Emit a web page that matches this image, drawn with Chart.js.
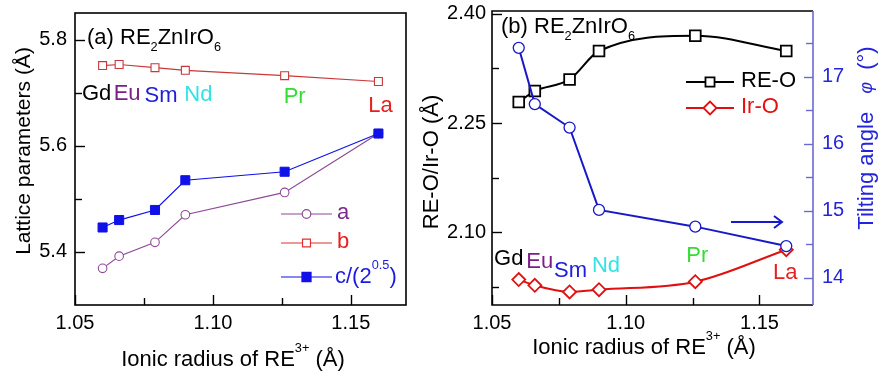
<!DOCTYPE html>
<html>
<head>
<meta charset="utf-8">
<script src="https://cdn.jsdelivr.net/npm/chart.js@4.4.1/dist/chart.umd.min.js"></script>
<style>
  html, body { margin: 0; padding: 0; background: #fff; }
  #wrap { position: relative; width: 879px; height: 376px; }
  canvas { position: absolute; top: 0; }
  #latt { left: 0; }
  #bond { left: 415px; }
</style>
</head>
<body>
<div id="wrap">
  <canvas id="latt" width="440" height="376"></canvas>
  <canvas id="bond" width="464" height="376"></canvas>
</div>
<script>
const FONT = "'Liberation Sans', Arial, sans-serif";

// ionic radius of RE3+ (Å), Gd -> La
const ELEMENTS = ['Gd', 'Eu', 'Sm', 'Nd', 'Pr', 'La'];
const RADIUS = [1.060, 1.066, 1.079, 1.090, 1.126, 1.160];

// lattice parameters (Å)
const LATT_A = [5.369, 5.392, 5.418, 5.470, 5.512, 5.623];
const LATT_B = [5.751, 5.753, 5.747, 5.742, 5.732, 5.721];
const LATT_C = [5.446, 5.460, 5.479, 5.535, 5.551, 5.623];

// bond lengths (Å) and octahedral tilting angle (deg)
const BOND_RE_O = [2.279, 2.294, 2.310, 2.349, 2.370, 2.349];
const BOND_IR_O = [2.035, 2.027, 2.018, 2.021, 2.032, 2.076];
const TILT = [17.43, 16.59, 16.24, 15.01, 14.76, 14.47];

// ticks
const X_TICKS = [1.05, 1.10, 1.15];
const X_MINOR = [1.075, 1.125];
const LATT_TICKS = [5.4, 5.6, 5.8];
const LATT_MINOR = [5.5, 5.7];
const BOND_TICKS = [2.10, 2.25, 2.40];
const BOND_MINOR = [2.025, 2.175, 2.325];
const TILT_TICKS = [14, 15, 16, 17];
const TILT_MINOR = [14.5, 15.5, 16.5, 17.5];

const ELEM_COLORS = ['#000000', '#7a1f86', '#2020d8', '#33e3e3', '#33dd33', '#e62020'];

const pts = ys => RADIUS.map((x, i) => ({ x, y: ys[i] }));

// text made of runs, some of them sub/superscript
function rich(ctx, parts, x, y, size, color, align) {
  const fontOf = p => {
    const s = size * (p.sub || p.sup ? 0.58 : 1) * (p.scale || 1);
    return (p.it ? 'italic ' : '') + s + 'px ' + FONT;
  };
  let w = 0;
  parts.forEach(p => { ctx.font = fontOf(p); w += ctx.measureText(p.t).width; });
  let cx = align === 'center' ? x - w / 2 : x;
  ctx.textAlign = 'left';
  ctx.textBaseline = 'middle';
  parts.forEach(p => {
    ctx.font = fontOf(p);
    ctx.fillStyle = p.color || color;
    const dy = p.sup ? -size * 0.52 : p.sub ? size * 0.42 : 0;
    ctx.fillText(p.t, cx, y + dy);
    cx += ctx.measureText(p.t).width;
  });
}

function richUp(ctx, parts, x, y, size, color) {
  ctx.save();
  ctx.translate(x, y);
  ctx.rotate(-Math.PI / 2);
  rich(ctx, parts, 0, 0, size, color, 'center');
  ctx.restore();
}

function yTicks(ctx, scale, values, len, x0, dir) {
  values.forEach(v => {
    const y = Math.round(scale.getPixelForValue(v)) + 0.5;
    ctx.beginPath(); ctx.moveTo(x0, y); ctx.lineTo(x0 + dir * len, y); ctx.stroke();
  });
}

function xTicks(ctx, scale, values, len, y0) {
  values.forEach(v => {
    const x = Math.round(scale.getPixelForValue(v)) + 0.5;
    ctx.beginPath(); ctx.moveTo(x, y0); ctx.lineTo(x, y0 - len); ctx.stroke();
  });
}

function marker(ctx, style, x, y, r) {
  ctx.beginPath();
  if (style === 'circle') {
    ctx.arc(x, y, r, 0, Math.PI * 2);
  } else if (style === 'rect') {
    const s = Math.SQRT1_2 * r;
    ctx.rect(x - s, y - s, 2 * s, 2 * s);
  } else {
    ctx.moveTo(x - r, y); ctx.lineTo(x, y - r); ctx.lineTo(x + r, y); ctx.lineTo(x, y + r); ctx.closePath();
  }
  ctx.fill();
  ctx.stroke();
}

function legendRow(ctx, x0, x1, y, color, fill, style, r, lw) {
  ctx.strokeStyle = color;
  ctx.lineWidth = lw;
  ctx.beginPath(); ctx.moveTo(x0, y); ctx.lineTo(x1, y); ctx.stroke();
  ctx.fillStyle = fill;
  marker(ctx, style, (x0 + x1) / 2, y, r);
}

function elementLabels(ctx, xs, nudge, ys) {
  ELEMENTS.forEach((el, i) => {
    ctx.font = '22px ' + FONT;
    ctx.fillStyle = ELEM_COLORS[i];
    ctx.textAlign = 'center';
    ctx.textBaseline = 'middle';
    ctx.fillText(el, xs.getPixelForValue(RADIUS[i]) + nudge[i], ys[i]);
  });
}

const xTitle = [{ t: 'Ionic radius of RE' }, { t: '3+', sup: true }, { t: ' (Å)' }];

const noGrid = { display: false, drawTicks: false };

// fixed box sizes so the plot frame sits where it should
const fixWidth = w => s => { s.width = w; s.paddingTop = 0; s.paddingBottom = 0; };

function xScale() {
  return {
    type: 'linear', min: 1.05, max: 1.17,
    afterBuildTicks: s => { s.ticks = X_TICKS.map(v => ({ value: v })); },
    afterFit: s => { s.height = 71; s.paddingLeft = 0; s.paddingRight = 0; },
    grid: noGrid, border: { display: false },
    ticks: { font: { family: FONT, size: 20 }, color: '#000', padding: 6, maxRotation: 0,
             callback: v => v.toFixed(2) }
  };
}

// ---- (a) lattice parameters ----
new Chart(document.getElementById('latt'), {
  type: 'line',
  data: {
    datasets: [
      { data: pts(LATT_C), borderColor: '#1010e8', backgroundColor: '#1010e8',
        borderWidth: 1.2, pointStyle: 'rect', pointRadius: 6.4, pointBorderWidth: 1, tension: 0 },
      { data: pts(LATT_A), borderColor: '#8e4a96', backgroundColor: '#fff',
        borderWidth: 1.2, pointStyle: 'circle', pointRadius: 4.3, pointBorderWidth: 1.1, tension: 0 },
      { data: pts(LATT_B), borderColor: '#c83838', backgroundColor: '#fff',
        borderWidth: 1.2, pointStyle: 'rect', pointRadius: 5.6, pointBorderWidth: 1.1, tension: 0 }
    ]
  },
  options: {
    responsive: false, animation: false,
    layout: { padding: { top: 13, right: 34, left: 0, bottom: 0 } },
    plugins: { legend: { display: false }, tooltip: { enabled: false } },
    scales: {
      x: xScale(),
      y: {
        min: 5.3, max: 5.85,
        afterBuildTicks: s => { s.ticks = LATT_TICKS.map(v => ({ value: v })); },
        afterFit: fixWidth(75),
        grid: noGrid, border: { display: false },
        ticks: { font: { family: FONT, size: 20 }, color: '#000', padding: 8,
                 callback: v => v.toFixed(1) }
      }
    }
  },
  plugins: [{
    id: 'lattDeco',
    afterDraw(chart) {
      const { ctx, chartArea: a, scales } = chart;
      ctx.save();
      ctx.strokeStyle = '#000';
      ctx.lineWidth = 1.6;
      ctx.strokeRect(a.left, a.top, a.right - a.left, a.bottom - a.top);
      ctx.lineWidth = 1.4;
      yTicks(ctx, scales.y, LATT_TICKS, 10, a.left, 1);
      yTicks(ctx, scales.y, LATT_MINOR, 7, a.left, 1);
      xTicks(ctx, scales.x, X_TICKS, 10, a.bottom);
      xTicks(ctx, scales.x, X_MINOR, 7, a.bottom);

      rich(ctx, [{ t: '(a) RE' }, { t: '2', sub: true }, { t: 'ZnIrO' }, { t: '6', sub: true }],
        a.left + 12, 38, 22, '#000', 'left');
      elementLabels(ctx, scales.x, [-6, 8, 6, 13, 10, 2], [94, 94, 96, 95, 97, 106]);

      legendRow(ctx, 281, 332, 214, '#8e4a96', '#fff', 'circle', 4.3, 1.2);
      legendRow(ctx, 281, 332, 243, '#e03030', '#fff', 'rect', 5.6, 1.2);
      legendRow(ctx, 281, 332, 277, '#1010e8', '#1010e8', 'rect', 6.4, 1.2);
      rich(ctx, [{ t: 'a' }], 337, 213, 22, '#7a2a8a', 'left');
      rich(ctx, [{ t: 'b' }], 337, 242, 22, '#e62020', 'left');
      rich(ctx, [{ t: 'c/(2' }, { t: '0.5', sup: true }, { t: ')' }], 335, 277, 22, '#1a1ae0', 'left');

      rich(ctx, xTitle, 233, 360, 22, '#000', 'center');
      richUp(ctx, [{ t: 'Lattice parameters (Å)' }], 24, 151, 21, '#000');
      ctx.restore();
    }
  }]
});

// ---- (b) bond lengths and tilting angle ----
new Chart(document.getElementById('bond'), {
  type: 'line',
  data: {
    datasets: [
      { data: pts(TILT), yAxisID: 'y2', borderColor: '#1818c8', backgroundColor: '#fff',
        borderWidth: 2, pointStyle: 'circle', pointRadius: 5.5, pointBorderWidth: 1.3, tension: 0 },
      { data: pts(BOND_RE_O), yAxisID: 'y', borderColor: '#000', backgroundColor: '#fff',
        borderWidth: 2, pointStyle: 'rect', pointRadius: 7.6, pointBorderWidth: 1.8,
        cubicInterpolationMode: 'monotone' },
      { data: pts(BOND_IR_O), yAxisID: 'y', borderColor: '#e01010', backgroundColor: '#fff',
        borderWidth: 2, pointStyle: 'rectRot', pointRadius: 6.5, pointBorderWidth: 1.8,
        cubicInterpolationMode: 'monotone' }
    ]
  },
  options: {
    responsive: false, animation: false,
    layout: { padding: { top: 11, right: 0, left: 0, bottom: 0 } },
    plugins: { legend: { display: false }, tooltip: { enabled: false } },
    scales: {
      x: xScale(),
      y: {
        position: 'left', min: 2.0, max: 2.404,
        afterBuildTicks: s => { s.ticks = BOND_TICKS.map(v => ({ value: v })); },
        afterFit: fixWidth(77),
        grid: noGrid, border: { display: false },
        ticks: { font: { family: FONT, size: 20 }, color: '#000', padding: 6,
                 callback: v => v.toFixed(2) }
      },
      y2: {
        position: 'right', min: 13.59, max: 17.98,
        afterBuildTicks: s => { s.ticks = TILT_TICKS.map(v => ({ value: v })); },
        afterFit: fixWidth(66),
        grid: noGrid, border: { display: false },
        ticks: { font: { family: FONT, size: 20 }, color: '#2424dc', padding: 9,
                 callback: v => v.toFixed(0) }
      }
    }
  },
  plugins: [{
    id: 'bondDeco',
    afterDraw(chart) {
      const { ctx, chartArea: a, scales } = chart;
      ctx.save();
      ctx.lineWidth = 1.6;
      ctx.strokeStyle = '#000';
      ctx.beginPath();
      ctx.moveTo(a.right, a.top); ctx.lineTo(a.left, a.top);
      ctx.lineTo(a.left, a.bottom); ctx.lineTo(a.right, a.bottom);
      ctx.stroke();
      ctx.lineWidth = 1.4;
      yTicks(ctx, scales.y, BOND_TICKS, 10, a.left, 1);
      yTicks(ctx, scales.y, BOND_MINOR, 7, a.left, 1);
      xTicks(ctx, scales.x, X_TICKS, 10, a.bottom);
      xTicks(ctx, scales.x, X_MINOR, 7, a.bottom);
      ctx.strokeStyle = '#6a6ad2';
      ctx.lineWidth = 1.6;
      ctx.beginPath(); ctx.moveTo(a.right, a.top); ctx.lineTo(a.right, a.bottom); ctx.stroke();
      ctx.lineWidth = 1.4;
      yTicks(ctx, scales.y2, TILT_TICKS, 9, a.right, -1);
      yTicks(ctx, scales.y2, TILT_MINOR, 7, a.right, -1);

      rich(ctx, [{ t: '(b) RE' }, { t: '2', sub: true }, { t: 'ZnIrO' }, { t: '6', sub: true }],
        a.left + 9, 27, 22, '#000', 'left');
      elementLabels(ctx, scales.x, [-10, 5, 1, 7, 2, -1], [259, 262, 271, 266, 256, 273]);

      legendRow(ctx, 271, 319, 82, '#000', '#fff', 'rect', 6.4, 1.8);
      legendRow(ctx, 271, 319, 108, '#e01010', '#fff', 'rectRot', 6.5, 1.8);
      rich(ctx, [{ t: 'RE-O' }], 326, 81, 22, '#000', 'left');
      rich(ctx, [{ t: 'Ir-O' }], 326, 107, 22, '#e61010', 'left');

      // arrow pointing at the right-hand axis
      ctx.strokeStyle = '#1818d0';
      ctx.lineWidth = 2;
      ctx.beginPath();
      ctx.moveTo(316, 222); ctx.lineTo(367, 222);
      ctx.moveTo(359, 216); ctx.lineTo(367, 222); ctx.lineTo(359, 228);
      ctx.stroke();

      rich(ctx, xTitle, 229, 348, 22, '#000', 'center');
      richUp(ctx, [{ t: 'RE-O/Ir-O (Å)' }], 17, 162, 22, '#000');
      richUp(ctx, [{ t: 'Tilting angle   ' }, { t: 'φ', it: true, scale: 0.8 }, { t: '  (°)' }],
        452, 138, 22, '#2424dc');
      ctx.restore();
    }
  }]
});
</script>
</body>
</html>
